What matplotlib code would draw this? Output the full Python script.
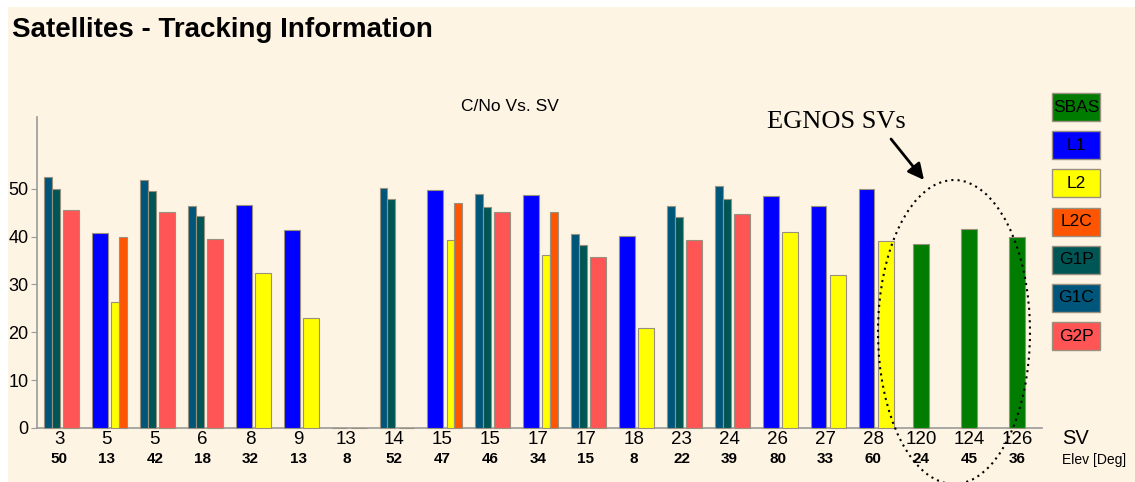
import numpy as np
import matplotlib.pyplot as plt
from matplotlib.patches import Rectangle, Ellipse, FancyArrowPatch

plt.rcParams['font.family'] = ['Liberation Sans', 'DejaVu Sans']

# Satellites and their elevation [deg]
SV = ['3', '5', '5', '6', '8', '9', '13', '14', '15', '15', '17', '17', '18',
      '23', '24', '26', '27', '28', '120', '124', '126']
ELEV = ['50', '13', '42', '18', '32', '13', '8', '52', '47', '46', '34', '15', '8',
        '22', '39', '80', '33', '60', '24', '45', '36']

# C/No per signal (nan = not tracked)
nan = np.nan
G1C = [52.4, nan, 51.9, 46.3, nan, nan, 0, 50.1, nan, 48.9, nan, 40.6, nan,
       46.5, 50.6, nan, nan, nan, nan, nan, nan]
G1P = [50.0, nan, 49.5, 44.4, nan, nan, 0, 47.8, nan, 46.1, nan, 38.3, nan,
       44.0, 47.9, nan, nan, nan, nan, nan, nan]
G2P = [45.6, nan, 45.1, 39.6, nan, nan, 0, 0, nan, 45.1, nan, 35.8, nan,
       39.3, 44.8, nan, nan, nan, nan, nan, nan]
L1 = [nan, 40.7, nan, nan, 46.7, 41.3, nan, nan, 49.7, nan, 48.8, nan, 40.1,
      nan, nan, 48.5, 46.3, 50.0, nan, nan, nan]
L2 = [nan, 26.4, nan, nan, 32.4, 22.9, nan, nan, 39.3, nan, 36.2, nan, 20.8,
      nan, nan, 41.0, 32.0, 39.1, nan, nan, nan]
L2C = [nan, 40.0, nan, nan, nan, nan, nan, nan, 47.1, nan, 45.2, nan, nan,
       nan, nan, nan, nan, nan, nan, nan, nan]
SBAS = [nan] * 18 + [38.5, 41.5, 39.9]

COLORS = {'SBAS': '#007D00', 'L1': '#0000FF', 'L2': '#FFFF00', 'L2C': '#FF5500',
          'G1P': '#005555', 'G1C': '#00557A', 'G2P': '#FF5555'}
BG = '#FEF4E4'
EDGE = '#9a9080'

W = 0.33          # width of one slot
LEFT = -0.145     # left slot centre offset
RIGHT = 0.255     # right slot centre offset

fig = plt.figure(figsize=(11.35, 4.82), dpi=100)
fig.patch.set_facecolor('white')
fig.add_artist(Rectangle((8 / 1135, 0), 1, 1 - 7 / 482, transform=fig.transFigure,
                         facecolor=BG, edgecolor='none', zorder=-10))

ax = fig.add_axes([37 / 1135, 1 - 428 / 482, (1042 - 37) / 1135, (428 - 117) / 482])
ax.set_facecolor('none')

x = np.arange(len(SV))


def draw(values, offset, width, name):
    v = np.array(values, dtype=float)
    m = ~np.isnan(v)
    ax.bar(x[m] + offset[m] if np.ndim(offset) else x[m] + offset, v[m],
           width[m] if np.ndim(width) else width,
           color=COLORS[name], edgecolor=EDGE, linewidth=0.8, clip_on=False)


draw(G1C, LEFT - W / 4, W / 2, 'G1C')
draw(G1P, LEFT + W / 4, W / 2, 'G1P')
draw(G2P, RIGHT, W, 'G2P')
draw(L1, LEFT, W, 'L1')
has_l2c = ~np.isnan(np.array(L2C, dtype=float))
draw(L2, np.where(has_l2c, RIGHT - W / 4, RIGHT), np.where(has_l2c, W / 2, W), 'L2')
draw(L2C, RIGHT + W / 4, W / 2, 'L2C')
draw(SBAS, 0.0, W, 'SBAS')

ax.set_xlim(-0.46, 20.52)
ax.set_ylim(0, 65)
ax.set_yticks([0, 10, 20, 30, 40, 50])
ax.tick_params(axis='y', length=4, color='#9a9a9a', labelsize=13, pad=2)
ax.tick_params(axis='x', length=0, labelbottom=False)
ax.set_xticks(x)
for s in ['top', 'right']:
    ax.spines[s].set_visible(False)
for s in ['left', 'bottom']:
    ax.spines[s].set_color('#9a9a9a')
    ax.spines[s].set_linewidth(1.2)
    ax.spines[s].set_zorder(0.5)

# SV numbers and elevations under each group
for i in x:
    ax.annotate(SV[i], (i, 0), xycoords=('data', 'axes fraction'),
                xytext=(0, -8.6), textcoords='offset points',
                ha='center', va='center', fontsize=13.5)
    ax.annotate(ELEV[i], (i, 0), xycoords=('data', 'axes fraction'),
                xytext=(0, -22.3), textcoords='offset points',
                ha='center', va='center', fontsize=11, fontweight='bold')

fig.text(1062 / 1135, 1 - 438 / 482, 'SV', fontsize=14.5, va='center')
fig.text(1062 / 1135, 1 - 460 / 482, 'Elev [Deg]', fontsize=10, va='center')

# titles
fig.text(12 / 1135, 1 - 37 / 482, 'Satellites - Tracking Information',
         fontsize=20, fontweight='bold', va='baseline')
fig.text(510 / 1135, 1 - 111 / 482, 'C/No Vs. SV', fontsize=12.5,
         ha='center', va='baseline')

# legend boxes
names = ['SBAS', 'L1', 'L2', 'L2C', 'G1P', 'G1C', 'G2P']
for k, name in enumerate(names):
    top = 93 + 38.2 * k
    fig.add_artist(Rectangle((1052 / 1135, 1 - (top + 28) / 482), 48 / 1135, 28 / 482,
                             transform=fig.transFigure, facecolor=COLORS[name],
                             edgecolor=EDGE, linewidth=1))
    fig.text(1076 / 1135, 1 - (top + 14) / 482, name, fontsize=12.5,
             ha='center', va='center')

# EGNOS annotation
fig.text(767 / 1135, 1 - 128 / 482, 'EGNOS SVs', fontsize=19,
         family='Liberation Serif', va='baseline')
fig.add_artist(FancyArrowPatch((891 / 1135, 1 - 139 / 482), (924 / 1135, 1 - 180 / 482),
                               transform=fig.transFigure, arrowstyle='-|>',
                               mutation_scale=24, shrinkA=0, shrinkB=0,
                               color='black', linewidth=2))
fig.add_artist(Ellipse((954 / 1135, 1 - 332 / 482), 152 / 1135, 304 / 482,
                       transform=fig.transFigure, fill=False, edgecolor='black',
                       linestyle=(0, (1, 2)), linewidth=1.5))

fig.savefig('out.png', dpi=100)
